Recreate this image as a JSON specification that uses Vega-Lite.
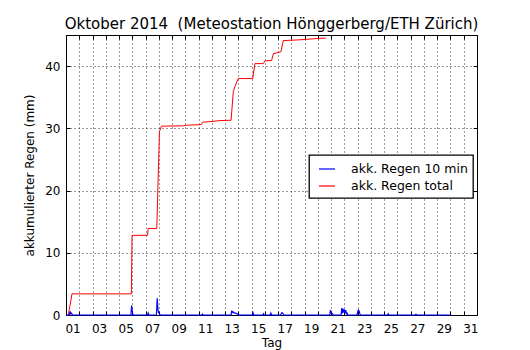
{
  "$schema": "https://vega.github.io/schema/vega-lite/v6.json",
  "autosize": "none",
  "width": 411,
  "height": 280,
  "padding": {"left": 66, "top": 35, "right": 53, "bottom": 35},
  "background": "white",
  "config": {
    "font": "DejaVu Sans",
    "view": {"stroke": "black", "strokeWidth": 1},
    "axis": {"labelFont": "DejaVu Sans", "titleFont": "DejaVu Sans", "labelColor": "black", "titleColor": "black", "titleFontWeight": "normal"}
  },
  "title": {"text": "Oktober 2014\u00a0\u00a0(Meteostation Hönggerberg/ETH Zürich)", "font": "DejaVu Sans", "fontSize": 15, "fontWeight": "normal", "color": "black", "offset": 3, "anchor": "middle"},
  "data": {"values": [
    {"series": "akk. Regen 10 min", "day": 0.0, "value": 0},
    {"series": "akk. Regen 10 min", "day": 0.25, "value": 0},
    {"series": "akk. Regen 10 min", "day": 0.3, "value": 0.6},
    {"series": "akk. Regen 10 min", "day": 0.35, "value": 0.2},
    {"series": "akk. Regen 10 min", "day": 0.42, "value": 0.3},
    {"series": "akk. Regen 10 min", "day": 0.48, "value": 0},
    {"series": "akk. Regen 10 min", "day": 4.9, "value": 0},
    {"series": "akk. Regen 10 min", "day": 4.95, "value": 1.5},
    {"series": "akk. Regen 10 min", "day": 5.0, "value": 0.6},
    {"series": "akk. Regen 10 min", "day": 5.05, "value": 0},
    {"series": "akk. Regen 10 min", "day": 6.15, "value": 0},
    {"series": "akk. Regen 10 min", "day": 6.2, "value": 0.3},
    {"series": "akk. Regen 10 min", "day": 6.25, "value": 0},
    {"series": "akk. Regen 10 min", "day": 6.82, "value": 0},
    {"series": "akk. Regen 10 min", "day": 6.88, "value": 2.7},
    {"series": "akk. Regen 10 min", "day": 6.93, "value": 1.0},
    {"series": "akk. Regen 10 min", "day": 6.98, "value": 0.4},
    {"series": "akk. Regen 10 min", "day": 7.05, "value": 0.2},
    {"series": "akk. Regen 10 min", "day": 7.12, "value": 0},
    {"series": "akk. Regen 10 min", "day": 10.25, "value": 0},
    {"series": "akk. Regen 10 min", "day": 10.3, "value": 0.15},
    {"series": "akk. Regen 10 min", "day": 10.35, "value": 0},
    {"series": "akk. Regen 10 min", "day": 12.45, "value": 0},
    {"series": "akk. Regen 10 min", "day": 12.5, "value": 0.7},
    {"series": "akk. Regen 10 min", "day": 12.55, "value": 0.4},
    {"series": "akk. Regen 10 min", "day": 12.6, "value": 0.5},
    {"series": "akk. Regen 10 min", "day": 12.7, "value": 0.3},
    {"series": "akk. Regen 10 min", "day": 12.8, "value": 0.3},
    {"series": "akk. Regen 10 min", "day": 12.9, "value": 0.2},
    {"series": "akk. Regen 10 min", "day": 13.0, "value": 0},
    {"series": "akk. Regen 10 min", "day": 14.05, "value": 0},
    {"series": "akk. Regen 10 min", "day": 14.1, "value": 0.4},
    {"series": "akk. Regen 10 min", "day": 14.15, "value": 0.1},
    {"series": "akk. Regen 10 min", "day": 14.2, "value": 0},
    {"series": "akk. Regen 10 min", "day": 14.85, "value": 0},
    {"series": "akk. Regen 10 min", "day": 14.9, "value": 0.2},
    {"series": "akk. Regen 10 min", "day": 14.95, "value": 0},
    {"series": "akk. Regen 10 min", "day": 15.4, "value": 0},
    {"series": "akk. Regen 10 min", "day": 15.45, "value": 0.3},
    {"series": "akk. Regen 10 min", "day": 15.5, "value": 0},
    {"series": "akk. Regen 10 min", "day": 16.2, "value": 0},
    {"series": "akk. Regen 10 min", "day": 16.25, "value": 0.3},
    {"series": "akk. Regen 10 min", "day": 16.3, "value": 0.4},
    {"series": "akk. Regen 10 min", "day": 16.38, "value": 0.2},
    {"series": "akk. Regen 10 min", "day": 16.45, "value": 0},
    {"series": "akk. Regen 10 min", "day": 19.9, "value": 0},
    {"series": "akk. Regen 10 min", "day": 19.95, "value": 0.8},
    {"series": "akk. Regen 10 min", "day": 20.0, "value": 0.3},
    {"series": "akk. Regen 10 min", "day": 20.1, "value": 0.2},
    {"series": "akk. Regen 10 min", "day": 20.15, "value": 0},
    {"series": "akk. Regen 10 min", "day": 20.75, "value": 0},
    {"series": "akk. Regen 10 min", "day": 20.8, "value": 1.1},
    {"series": "akk. Regen 10 min", "day": 20.85, "value": 0.3},
    {"series": "akk. Regen 10 min", "day": 20.9, "value": 1.0},
    {"series": "akk. Regen 10 min", "day": 20.95, "value": 0.4},
    {"series": "akk. Regen 10 min", "day": 21.0, "value": 0.9},
    {"series": "akk. Regen 10 min", "day": 21.05, "value": 0.3},
    {"series": "akk. Regen 10 min", "day": 21.1, "value": 0.8},
    {"series": "akk. Regen 10 min", "day": 21.15, "value": 0.2},
    {"series": "akk. Regen 10 min", "day": 21.2, "value": 0.3},
    {"series": "akk. Regen 10 min", "day": 21.25, "value": 0},
    {"series": "akk. Regen 10 min", "day": 21.95, "value": 0},
    {"series": "akk. Regen 10 min", "day": 22.0, "value": 0.5},
    {"series": "akk. Regen 10 min", "day": 22.05, "value": 0.8},
    {"series": "akk. Regen 10 min", "day": 22.1, "value": 0.7},
    {"series": "akk. Regen 10 min", "day": 22.15, "value": 0.3},
    {"series": "akk. Regen 10 min", "day": 22.2, "value": 0},
    {"series": "akk. Regen 10 min", "day": 24.25, "value": 0},
    {"series": "akk. Regen 10 min", "day": 24.3, "value": 0.2},
    {"series": "akk. Regen 10 min", "day": 24.35, "value": 0},
    {"series": "akk. Regen 10 min", "day": 26.35, "value": 0},
    {"series": "akk. Regen 10 min", "day": 26.4, "value": 0.1},
    {"series": "akk. Regen 10 min", "day": 26.45, "value": 0},
    {"series": "akk. Regen 10 min", "day": 29.0, "value": 0},
    {"series": "akk. Regen total", "day": 0.17, "value": 0},
    {"series": "akk. Regen total", "day": 0.3, "value": 1.5},
    {"series": "akk. Regen total", "day": 0.45, "value": 3.4},
    {"series": "akk. Regen total", "day": 4.93, "value": 3.4},
    {"series": "akk. Regen total", "day": 4.98, "value": 12.8},
    {"series": "akk. Regen total", "day": 6.15, "value": 12.8},
    {"series": "akk. Regen total", "day": 6.2, "value": 13.9},
    {"series": "akk. Regen total", "day": 6.85, "value": 13.9},
    {"series": "akk. Regen total", "day": 6.95, "value": 22},
    {"series": "akk. Regen total", "day": 7.05, "value": 29.5},
    {"series": "akk. Regen total", "day": 7.2, "value": 30.35},
    {"series": "akk. Regen total", "day": 8.8, "value": 30.4},
    {"series": "akk. Regen total", "day": 9.1, "value": 30.5},
    {"series": "akk. Regen total", "day": 10.2, "value": 30.6},
    {"series": "akk. Regen total", "day": 10.3, "value": 31.0},
    {"series": "akk. Regen total", "day": 11.0, "value": 31.1},
    {"series": "akk. Regen total", "day": 11.6, "value": 31.25},
    {"series": "akk. Regen total", "day": 12.45, "value": 31.3},
    {"series": "akk. Regen total", "day": 12.62, "value": 35.9},
    {"series": "akk. Regen total", "day": 12.74, "value": 36.7},
    {"series": "akk. Regen total", "day": 12.99, "value": 38.0},
    {"series": "akk. Regen total", "day": 14.08, "value": 38.0},
    {"series": "akk. Regen total", "day": 14.25, "value": 40.4},
    {"series": "akk. Regen total", "day": 14.88, "value": 40.4},
    {"series": "akk. Regen total", "day": 15.0, "value": 40.85},
    {"series": "akk. Regen total", "day": 15.51, "value": 40.9},
    {"series": "akk. Regen total", "day": 15.64, "value": 42.0},
    {"series": "akk. Regen total", "day": 16.21, "value": 42.3},
    {"series": "akk. Regen total", "day": 16.39, "value": 44.1},
    {"series": "akk. Regen total", "day": 17.4, "value": 44.2},
    {"series": "akk. Regen total", "day": 18.15, "value": 44.3},
    {"series": "akk. Regen total", "day": 19.0, "value": 44.45},
    {"series": "akk. Regen total", "day": 19.6, "value": 44.5}
  ]},
  "encoding": {
    "color": {
      "field": "series", "type": "nominal",
      "scale": {"domain": ["akk. Regen 10 min", "akk. Regen total"], "range": ["#0000ff", "#ff0000"]},
      "legend": {
        "title": null, "orient": "none", "legendX": 243, "legendY": 120,
        "symbolType": "stroke", "symbolSize": 256, "symbolStrokeWidth": 1.2, "symbolOffset": 4,
        "labelFont": "DejaVu Sans", "labelFontSize": 12.5, "labelColor": "black",
        "strokeColor": "black", "fillColor": "white",
        "padding": 5, "rowPadding": 1, "labelOffset": 15,
        "encode": {"legend": {"update": {"strokeWidth": {"value": 1.3}}}}
      }
    }
  },
  "resolve": {"axis": {"x": "independent", "y": "independent"}},
  "layer": [
    {
      "transform": [{"filter": "datum.series == 'akk. Regen 10 min'"}],
      "mark": {"type": "line", "strokeWidth": 1.2},
      "encoding": {
        "x": {"field": "day", "type": "quantitative",
          "scale": {"domain": [0, 31], "nice": false, "zero": false},
          "axis": {"orient": "bottom", "title": "Tag", "titleFontSize": 12, "titlePadding": 3,
            "values": [0,1,2,3,4,5,6,7,8,9,10,11,12,13,14,15,16,17,18,19,20,21,22,23,24,25,26,27,28,29,30,31],
            "labelExpr": "(datum.value % 2 == 0 && datum.value < 31) ? ((datum.value + 1 < 10 ? '0' : '') + (datum.value + 1)) : ''",
            "labelOffset": 6.6, "labelFontSize": 12, "labelPadding": 12, "labelOverlap": false, "labelFlush": false,
            "tickSize": -4, "tickColor": "black", "domain": false,
            "grid": true, "gridColor": "black", "gridDash": [1, 3], "gridOpacity": 0.8}
        },
        "y": {"field": "value", "type": "quantitative",
          "scale": {"domain": [0, 45], "nice": false},
          "axis": {"orient": "left", "title": "akkumulierter Regen (mm)", "titleFontSize": 12, "titlePadding": 8,
            "values": [0, 10, 20, 30, 40], "labelFontSize": 12, "labelPadding": 10,
            "tickSize": -4, "tickColor": "black", "domain": false,
            "grid": true, "gridColor": "black", "gridDash": [1, 3], "gridOpacity": 0.8}
        }
      }
    },
    {
      "transform": [{"filter": "datum.series == 'akk. Regen total'"}],
      "mark": {"type": "line", "strokeWidth": 1},
      "encoding": {
        "x": {"field": "day", "type": "quantitative",
          "axis": {"orient": "top", "title": null, "labels": false, "grid": false, "domain": false,
            "values": [0,1,2,3,4,5,6,7,8,9,10,11,12,13,14,15,16,17,18,19,20,21,22,23,24,25,26,27,28,29,30,31],
            "tickSize": -4, "tickColor": "black"}
        },
        "y": {"field": "value", "type": "quantitative",
          "axis": {"orient": "right", "title": null, "labels": false, "grid": false, "domain": false,
            "values": [0, 10, 20, 30, 40], "tickSize": -4, "tickColor": "black"}
        }
      }
    }
  ]
}
